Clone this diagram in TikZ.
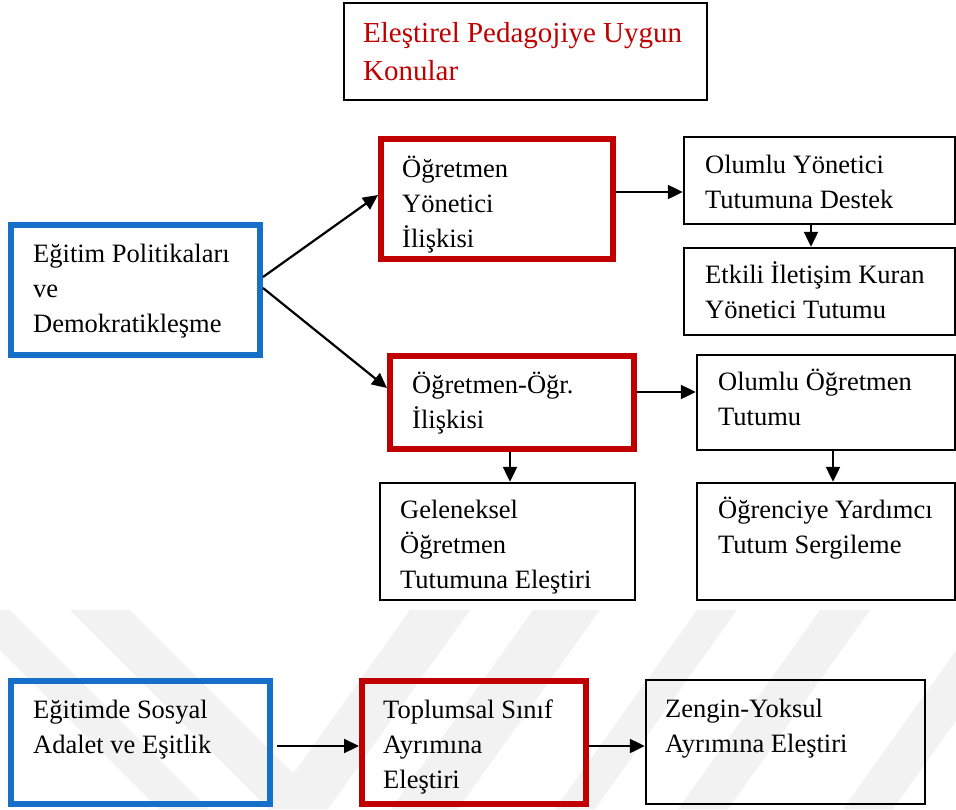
\documentclass[tikz,border=0pt]{standalone}
\usepackage{fontspec}
\setmainfont{Liberation Serif}
\usetikzlibrary{arrows.meta,calc}
\definecolor{boxblue}{RGB}{22,112,200}
\definecolor{boxred}{RGB}{192,0,0}
\definecolor{wmgray}{RGB}{242,242,242}
\begin{document}
\begin{tikzpicture}[x=1pt,y=-1pt,
  plainbox/.style={draw=black,line width=2.4pt,inner sep=0pt},
  redbox/.style={draw=boxred,line width=6pt,inner sep=0pt},
  bluebox/.style={draw=boxblue,line width=6pt,inner sep=0pt},
  txt/.style={anchor=base west,inner sep=0pt,align=flush left,text width=300pt,
    font=\fontsize{26.5}{35}\selectfont},
  titletxt/.style={anchor=base west,inner sep=0pt,align=flush left,text width=340pt,
    text=boxred,font=\fontsize{29}{38}\selectfont},
  arr/.style={draw=black,line width=2.2pt,-{Triangle[length=15pt,width=14pt]}}]
\useasboundingbox (0,0) rectangle (956,809);

% faint diagonal bands behind the lower row
\begin{scope}
  \clip (0,610) rectangle (956,809);
  \fill[wmgray] (-40,610) -- (10,610) -- (209,809) -- (159,809) -- cycle;
  \fill[wmgray] (70,610) -- (130,610) -- (329,809) -- (269,809) -- cycle;
  \foreach \a/\b in {410/470,533/600,697/737,820/870,985/1035}
    \fill[wmgray] (\a,610) -- (\b,610) -- (\b-142,809) -- (\a-142,809) -- cycle;
\end{scope}

% boxes
\node[plainbox,minimum width=363pt,minimum height=97pt] (title) at (525.5,51.5) {};
\node[bluebox,minimum width=249pt,minimum height=130pt] (pol) at (135.5,290) {};
\node[redbox,minimum width=232pt,minimum height=120pt] (oy) at (497,199) {};
\node[plainbox,minimum width=271pt,minimum height=87pt] (oyd) at (819.5,180.5) {};
\node[plainbox,minimum width=271pt,minimum height=87pt] (eik) at (819.5,291.5) {};
\node[redbox,minimum width=244pt,minimum height=93pt] (oo) at (512,402.5) {};
\node[plainbox,minimum width=258pt,minimum height=95pt] (oot) at (826,402.5) {};
\node[plainbox,minimum width=258pt,minimum height=117pt] (oyt) at (826,541.5) {};
\node[plainbox,minimum width=255pt,minimum height=117pt] (gel) at (507.5,541.5) {};
\node[bluebox,minimum width=259pt,minimum height=123pt] (sos) at (140.5,742.5) {};
\node[redbox,minimum width=224pt,minimum height=123pt] (tsa) at (474,742.5) {};
\node[plainbox,minimum width=279pt,minimum height=124pt] (zya) at (785.5,742) {};

% texts (anchored at the baseline of their first line)
\node[titletxt] (titleT) at (363,42) {Eleştirel Pedagojiye Uygun\\Konular};
\node[txt] (polT) at (33,262) {Eğitim Politikaları\\ve\\Demokratikleşme};
\node[txt] (oyT) at (402,177) {Öğretmen\\Yönetici\\İlişkisi};
\node[txt] (oydT) at (705,173) {Olumlu Yönetici\\Tutumuna Destek};
\node[txt] (eikT) at (705,283) {Etkili İletişim Kuran\\Yönetici Tutumu};
\node[txt] (ooT) at (412,393) {Öğretmen-Öğr.\\İlişkisi};
\node[txt] (ootT) at (718,390) {Olumlu Öğretmen\\Tutumu};
\node[txt] (oytT) at (718,518) {Öğrenciye Yardımcı\\Tutum Sergileme};
\node[txt] (gelT) at (400,518) {Geleneksel\\Öğretmen\\Tutumuna Eleştiri};
\node[txt] (sosT) at (33,718) {Eğitimde Sosyal\\Adalet ve Eşitlik};
\node[txt] (tsaT) at (383,718) {Toplumsal Sınıf\\Ayrımına\\Eleştiri};
\node[txt] (zyaT) at (665,717) {Zengin-Yoksul\\Ayrımına Eleştiri};

% connectors
\draw[arr] ([yshift=13pt]pol.east) -- ([yshift=4pt]oy.west);
\draw[arr] ([yshift=2pt]pol.east) -- ([yshift=14.5pt]oo.west);
\draw[arr] ([yshift=7pt]oy.east) -- ([yshift=7pt]oy.east -| oyd.west);
\draw[arr] ([xshift=-8.5pt]oyd.south) -- ([xshift=-8.5pt]oyd.south |- eik.north);
\draw[arr] ([yshift=10.5pt]oo.east) -- ([yshift=10.5pt]oo.east -| oot.west);
\draw[arr] ([xshift=7pt]oot.south) -- ([xshift=7pt]oot.south |- oyt.north);
\draw[arr] ([xshift=-2pt]oo.south) -- ([xshift=-2pt]oo.south |- gel.north);
\draw[arr] ([xshift=4pt,yshift=-3.5pt]sos.east) -- ([yshift=-3.5pt]sos.east -| tsa.west);
\draw[arr] ([yshift=-3.5pt]tsa.east) -- ([yshift=-3.5pt]tsa.east -| zya.west);
\end{tikzpicture}
\end{document}
